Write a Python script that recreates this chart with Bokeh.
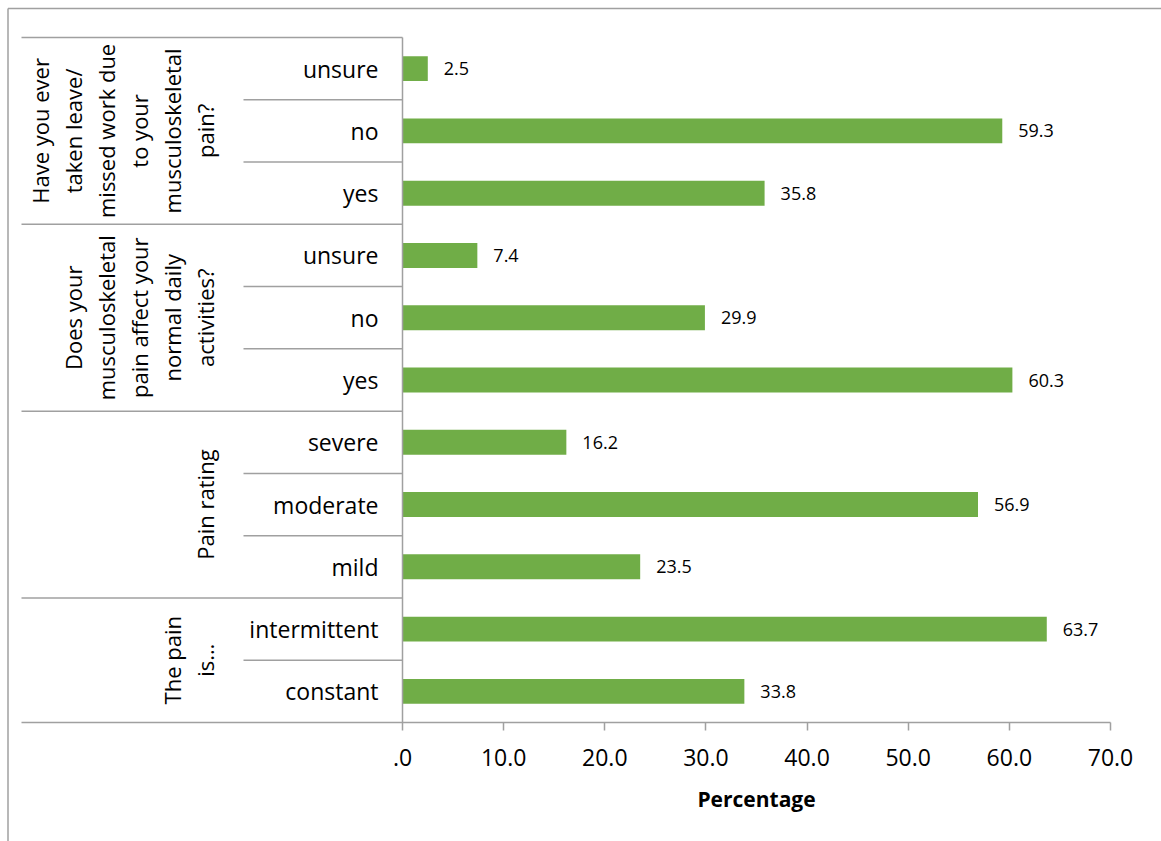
import math

from bokeh.core.properties import value
from bokeh.embed import file_html
from bokeh.models import ColumnDataSource, FixedTicker, Range1d
from bokeh.plotting import figure
from bokeh.resources import INLINE

# Survey questions, listed from the bottom of the chart upwards.
group_titles = [
    ["The pain", "is…"],
    ["Pain rating"],
    ["Does your", "musculoskeletal", "pain affect your", "normal daily", "activities?"],
    ["Have you ever", "taken leave/", "missed work due", "to your", "musculoskeletal", "pain?"],
]
group_items = [
    ["constant", "intermittent"],
    ["mild", "moderate", "severe"],
    ["yes", "no", "unsure"],
    ["yes", "no", "unsure"],
]
group_values = [
    [33.8, 63.7],
    [23.5, 56.9, 16.2],
    [60.3, 29.9, 7.4],
    [35.8, 59.3, 2.5],
]
x_ticks = [0, 10, 20, 30, 40, 50, 60, 70]
x_tick_labels = [".0", "10.0", "20.0", "30.0", "40.0", "50.0", "60.0", "70.0"]
x_title = "Percentage"

# ---- page geometry (pixels) ----
W, H = 1161, 841
ZERO_PX, MAX_PX = 402, 1110          # value axis: 0 .. 70
TOP_PX, BASE_PX = 37, 722            # category band: top .. baseline
n_rows = sum(len(g) for g in group_items)
ux = (MAX_PX - ZERO_PX) / x_ticks[-1]
uy = (BASE_PX - TOP_PX) / n_rows


def xd(px):
    return (px - ZERO_PX) / ux


def yd(py):
    return (BASE_PX - py) / uy


GRID = "#a0a0a0"
TEXT = "#000000"
BAR = "#70AD47"
FONT = "Open Sans"

p = figure(
    width=W, height=H,
    x_range=Range1d(xd(0), xd(W)), y_range=Range1d(yd(H), yd(0)),
    output_backend="svg", toolbar_location=None,
    y_axis_location=None, min_border=0,
)
p.outline_line_color = None
p.grid.visible = False
p.background_fill_color = "white"
p.border_fill_color = "white"

# ---- bars and value labels ----
rows_y, rows_v, rows_name = [], [], []
r = 0
for items, vals in zip(group_items, group_values):
    for name, v in zip(items, vals):
        rows_y.append(r + 0.5)
        rows_v.append(v)
        rows_name.append(name)
        r += 1
src = ColumnDataSource(dict(y=rows_y, v=rows_v, name=rows_name,
                            lbl=[f"{v:.1f}" for v in rows_v]))
p.hbar(y="y", left=0, right="v", height=0.4, source=src,
       fill_color=BAR, line_color=None)
p.text(x="v", y="y", text="lbl", source=src, x_offset=16,
       text_align="left", text_baseline="middle",
       text_font=value(FONT), text_font_size="18px", text_color=TEXT)

# ---- category labels ----
p.text(x=xd(378), y="y", text="name", source=src,
       text_align="right", text_baseline="middle",
       text_font=value(FONT), text_font_size="23px", text_color=TEXT)

# ---- group titles (rotated, one glyph per line) ----
gx, gy, gt = [], [], []
start = 0
line_step = 33
for title, items in zip(group_titles, group_items):
    mid = start + len(items) / 2
    n = len(title)
    for k, line in enumerate(title):
        gx.append(xd(204 - (n - 1 - k) * line_step))
        gy.append(mid)
        gt.append(line)
    start += len(items)
p.text(x=gx, y=gy, text=gt, angle=math.pi / 2,
       text_align="center", text_baseline="middle",
       text_font=value(FONT), text_font_size="22px", text_color=TEXT)

# ---- category separators ----
x_outer, x_inner = xd(21), xd(243)
sx0, sx1, sy = [], [], []
start = 0
for items in group_items:
    for k in range(1, len(items)):
        sx0.append(x_inner); sx1.append(0); sy.append(start + k)
    start += len(items)
    if start < n_rows:
        sx0.append(x_outer); sx1.append(0); sy.append(start)
sx0.append(x_outer); sx1.append(0); sy.append(n_rows)
p.segment(x0=sx0, y0=sy, x1=sx1, y1=sy, line_color=GRID, line_width=1.5)

# value-axis baseline and category-axis line
p.segment(x0=[x_outer, 0], y0=[0, 0], x1=[x_ticks[-1], 0], y1=[0, n_rows],
          line_color=GRID, line_width=1.5)

# outer chart border (left and top)
p.segment(x0=[xd(7.5), xd(7.5)], y0=[yd(8), yd(8)], x1=[xd(7.5), xd(W)], y1=[yd(H), yd(8)],
          line_color=GRID, line_width=1.5)

# ---- value axis ticks and labels ----
ax = p.xaxis[0]
ax.fixed_location = 0
ax.ticker = FixedTicker(ticks=x_ticks)
ax.minor_tick_line_color = None
ax.axis_line_color = None
ax.major_tick_line_color = GRID
ax.major_tick_line_width = 1.5
ax.major_tick_in = 0
ax.major_tick_out = 8
ax.major_label_overrides = {t: s for t, s in zip(x_ticks, x_tick_labels)}
ax.major_label_text_font = FONT
ax.major_label_text_font_size = "23px"
ax.major_label_text_color = TEXT
ax.major_label_standoff = 18

# value-axis title, centred under the plotted values
p.text(x=[x_ticks[-1] / 2], y=[yd(798)], text=[x_title],
       text_align="center", text_baseline="middle",
       text_font=value(FONT), text_font_style="bold",
       text_font_size="21px", text_color=TEXT)

open("out.html", "w").write(file_html(p, INLINE))
